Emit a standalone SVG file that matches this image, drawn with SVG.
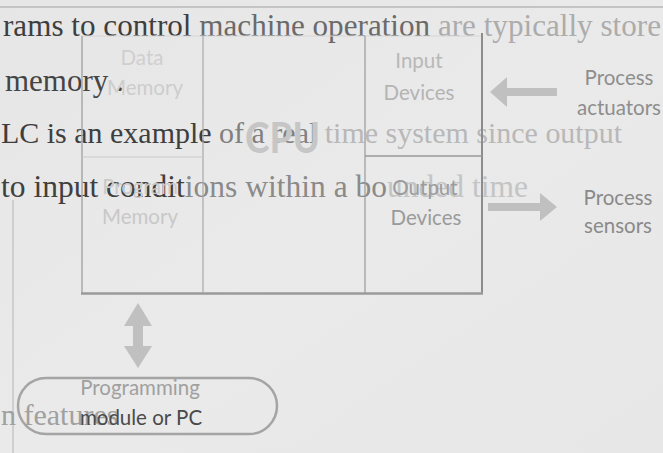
<svg xmlns="http://www.w3.org/2000/svg" width="663" height="453" viewBox="0 0 663 453">
  <defs>
    <linearGradient id="bg" x1="0" y1="0" x2="1" y2="1">
      <stop offset="0" stop-color="#e6e6e6"/>
      <stop offset="0.5" stop-color="#eaeaea"/>
      <stop offset="1" stop-color="#e7e7e7"/>
    </linearGradient>
    <style>
      .serif { font-family: "Liberation Serif", "DejaVu Serif", serif; }
      .lbl { font-family: Lato, "Open Sans", "Liberation Sans", sans-serif; font-size: 20.5px; text-anchor: middle; }
      .frame { stroke: #a8a8a8; stroke-width: 1.2; fill: none; }
      .arrow { fill: #c0c0c0; stroke: none; }
    </style>
  </defs>

  <rect x="0" y="0" width="663" height="453" fill="url(#bg)"/>
  <line x1="0" y1="7" x2="663" y2="7" stroke="#c4c4c4" stroke-width="2"/>
  <line x1="13" y1="200" x2="13" y2="453" stroke="#c6c6c6" stroke-width="1.5"/>

  <!-- bleed-through slide text -->
  <g id="slide-text" class="serif">
    <text x="3" y="36" font-size="30.5" textLength="658" lengthAdjust="spacingAndGlyphs"><tspan fill="#3e3e3e">rams to control </tspan><tspan fill="#6a6a6a">machine operation </tspan><tspan fill="#acacac">are typically store</tspan></text>
    <text x="5" y="91" font-size="31" fill="#444">memory .</text>
    <text x="1" y="143" font-size="30" textLength="621" lengthAdjust="spacingAndGlyphs"><tspan fill="#3e3e3e">LC is an example </tspan><tspan fill="#808080">of a real </tspan><tspan fill="#b8b8b8">time system since output</tspan></text>
    <text x="1" y="197" font-size="30.5" textLength="527" lengthAdjust="spacingAndGlyphs"><tspan fill="#404040">to input condit</tspan><tspan fill="#8a8a8a">ions within a bo</tspan><tspan fill="#c4c4c4">unded time</tspan></text>
    <text x="1" y="425" font-size="30" fill="#a0a0a0">n features</text>
  </g>

  <!-- PLC block -->
  <g id="plc-frame">
    <line x1="82" y1="36" x2="482" y2="36" stroke="#d6d6d6" stroke-width="1"/>
    <line x1="82" y1="36" x2="82" y2="293" stroke="#a8a8a8" stroke-width="1.5"/>
    <line x1="482" y1="33" x2="482" y2="294" stroke="#8c8c8c" stroke-width="2"/>
    <line x1="81" y1="293.5" x2="483" y2="293.5" stroke="#9a9a9a" stroke-width="2.5"/>
    <line x1="203" y1="36" x2="203" y2="293" class="frame"/>
    <line x1="365" y1="36" x2="365" y2="293" stroke="#999" stroke-width="1.2"/>
  </g>

  <g id="data-memory">
    <line x1="82" y1="157" x2="203" y2="157" stroke="#cacaca" stroke-width="1.2"/>
    <text class="lbl" x="142" y="65" fill="#cfcfcf">Data</text>
    <text class="lbl" x="145" y="95" fill="#cdcdcd">Memory</text>
  </g>

  <g id="program-memory">
    <text class="lbl" x="140" y="194" fill="#cacaca">Program</text>
    <text class="lbl" x="140" y="224" fill="#c8c8c8">Memory</text>
  </g>

  <g id="cpu">
    <text x="245" y="153" font-family="Lato, 'Liberation Sans', sans-serif" font-weight="700" font-size="42" fill="#c6c6c6" textLength="75" lengthAdjust="spacingAndGlyphs">CPU</text>
  </g>

  <g id="input-devices">
    <text class="lbl" x="419" y="68" fill="#b8b8b8">Input</text>
    <text class="lbl" x="419" y="100" fill="#b4b4b4">Devices</text>
  </g>

  <g id="output-devices">
    <line x1="365" y1="156" x2="482" y2="156" stroke="#999" stroke-width="1.5"/>
    <text class="lbl" x="425" y="195" fill="#9c9c9c">Output</text>
    <text class="lbl" x="426" y="225" fill="#9a9a9a">Devices</text>
  </g>

  <g id="process-actuators">
    <text class="lbl" x="619" y="85" fill="#8e8e8e">Process</text>
    <text class="lbl" x="619" y="115" fill="#8e8e8e">actuators</text>
  </g>

  <g id="process-sensors">
    <text class="lbl" x="618" y="205" fill="#8a8a8a">Process</text>
    <text class="lbl" x="618" y="233" fill="#8a8a8a">sensors</text>
  </g>

  <g id="programming-module">
    <rect x="18" y="378" width="259" height="56" rx="28" ry="28" fill="none" stroke="#a4a4a4" stroke-width="2.5"/>
    <text class="lbl" x="140" y="395" fill="#a0a0a0">Programming</text>
    <text class="lbl" x="141" y="425" fill="#4a4a4a">module or PC</text>
  </g>

  <g id="connectors">
    <polygon class="arrow" points="490,92 507,77 507,88 557,88 557,96 507,96 507,107"/>
    <polygon class="arrow" points="488,203 540,203 540,193 557,207 540,221 540,211 488,211" fill="#b8b8b8"/>
    <polygon class="arrow" points="138,303 152,326 143,326 143,346 152,346 138,368 124,346 133,346 133,326 124,326"/>
  </g>
</svg>
